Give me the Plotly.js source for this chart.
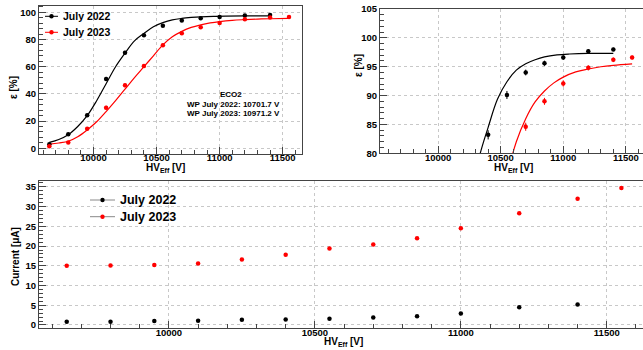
<!DOCTYPE html>
<html>
<head>
<meta charset="utf-8">
<script src="https://cdn.plot.ly/plotly-3.0.1.min.js"></script>
<style>html,body{margin:0;padding:0;background:#fff;}#chart{width:643px;height:350px;}</style>
</head>
<body>
<div id="chart"></div>
<script>
// ---- data ----
const hv2022 = [9650, 9800, 9950, 10100, 10250, 10400, 10550, 10700, 10850, 11000, 11200, 11400];
const hv2023 = [9650, 9800, 9950, 10100, 10250, 10400, 10550, 10700, 10850, 11000, 11200, 11400, 11550];

const eff2022 = [3.0, 10.4, 24.3, 51.0, 70.3, 83.2, 90.1, 94.0, 95.6, 96.6, 97.7, 98.0];
const eff2023 = [1.5, 4.2, 14.4, 29.9, 46.3, 60.5, 75.8, 84.6, 89.0, 92.1, 94.8, 96.2, 96.6];
const effErr2022 = [0.5, 0.9, 1.3, 1.5, 1.4, 0.8, 0.7, 0.5, 0.45, 0.4, 0.35, 0.3];
const effErr2023 = [0.3, 0.6, 1.1, 1.4, 1.5, 1.5, 1.3, 0.7, 0.6, 0.55, 0.45, 0.4, 0.35];

// fitted sigmoid curves
const fitHv2022 = [9650, 9725, 9800, 9875, 9950, 10025, 10100, 10175, 10250, 10325, 10400, 10475, 10550, 10625, 10700, 10775, 10850, 10950, 11050, 11200, 11400];
const fitEff2022 = [4.3, 6.5, 10.0, 16.0, 24.0, 35.0, 47.5, 60.0, 70.0, 79.0, 84.5, 89.4, 92.4, 94.4, 95.5, 96.2, 96.7, 97.05, 97.2, 97.3, 97.3];
const fitHv2023 = [9650, 9725, 9800, 9875, 9950, 10025, 10100, 10175, 10250, 10325, 10400, 10475, 10550, 10625, 10700, 10775, 10850, 10925, 11000, 11100, 11200, 11300, 11400, 11550];
const fitEff2023 = [3.0, 3.9, 5.2, 8.5, 13.5, 19.5, 27.0, 35.0, 43.5, 52.0, 60.0, 68.0, 76.0, 82.0, 86.0, 88.9, 90.8, 92.2, 93.2, 94.1, 94.6, 95.0, 95.25, 95.5];

const cur2022 = [0.8, 0.8, 1.0, 1.1, 1.3, 1.4, 1.6, 1.9, 2.2, 2.9, 4.5, 5.2];
const cur2023 = [15.0, 15.1, 15.2, 15.6, 16.6, 17.8, 19.4, 20.4, 22.0, 24.5, 28.3, 32.0, 34.7];

const seriesNames = ['July 2022', 'July 2023'];
const wpText = ['ECO2', 'WP July 2022: 10701.7 V', 'WP July 2023: 10971.2 V'];

// ---- styling ----
const W = 643, H = 350;
const px = v => v / W;
const py = v => 1 - v / H;
const BLACK = '#000000', RED = '#ff0000';
const FONT = 'Liberation Sans, Arial, Helvetica, sans-serif';

function effTraces(xa, ya) {
  return [
    {x: fitHv2022, y: fitEff2022, xaxis: xa, yaxis: ya, mode: 'lines', line: {color: BLACK, width: 1.2, shape: 'spline'}, hoverinfo: 'skip'},
    {x: fitHv2023, y: fitEff2023, xaxis: xa, yaxis: ya, mode: 'lines', line: {color: RED, width: 1.2, shape: 'spline'}, hoverinfo: 'skip'},
    {x: hv2022, y: eff2022, xaxis: xa, yaxis: ya, mode: 'markers', name: seriesNames[0],
     marker: {color: BLACK, size: 4.5},
     error_y: {type: 'data', array: effErr2022, color: BLACK, thickness: 1, width: 0}},
    {x: hv2023, y: eff2023, xaxis: xa, yaxis: ya, mode: 'markers', name: seriesNames[1],
     marker: {color: RED, size: 4.5},
     error_y: {type: 'data', array: effErr2023, color: RED, thickness: 1, width: 0}}
  ];
}

const traces = [
  ...effTraces('x', 'y'),
  ...effTraces('x2', 'y2'),
  {x: hv2022, y: cur2022, xaxis: 'x3', yaxis: 'y3', mode: 'markers', name: seriesNames[0], marker: {color: BLACK, size: 4.5}},
  {x: hv2023, y: cur2023, xaxis: 'x3', yaxis: 'y3', mode: 'markers', name: seriesNames[1], marker: {color: RED, size: 4.5}}
];

function axis(extra) {
  return Object.assign({
    showgrid: true, gridcolor: '#c8c8c8', griddash: 'dot', gridwidth: 1,
    zeroline: false, showline: true, mirror: true, linecolor: '#444', linewidth: 1,
    ticks: 'inside', ticklen: 7, tickcolor: '#444', tickwidth: 1,
    tickfont: {family: FONT, size: 9.5, color: '#000', weight: 'bold'},
    tickformat: 'd', exponentformat: 'none',
    fixedrange: true
  }, extra);
}
const xStandoff = -5;

const layout = {
  width: W, height: H,
  margin: {l: 0, r: 0, t: 0, b: 0},
  paper_bgcolor: '#fff', plot_bgcolor: '#fff',
  showlegend: false,
  xaxis: axis({domain: [px(39), px(302)], range: [9568, 11653], anchor: 'y', tick0: 10000, dtick: 500, ticklabelstandoff: xStandoff,
               minor: {dtick: 100, ticks: 'inside', ticklen: 4, tickcolor: '#444', showgrid: false}}),
  yaxis: axis({domain: [py(154), py(5.5)], range: [-4.2, 105], anchor: 'x', tick0: 0, dtick: 20,
               minor: {dtick: 4, ticks: 'inside', ticklen: 4, tickcolor: '#444', showgrid: false}}),
  xaxis2: axis({domain: [px(380), 1], range: [9536, 11637], anchor: 'y2', tick0: 10000, dtick: 500, ticklabelstandoff: xStandoff,
               minor: {dtick: 100, ticks: 'inside', ticklen: 4, tickcolor: '#444', showgrid: false}}),
  yaxis2: axis({domain: [py(153.3), py(9)], range: [80, 105], anchor: 'x2', tick0: 80, dtick: 5,
               minor: {dtick: 1, ticks: 'inside', ticklen: 4, tickcolor: '#444', showgrid: false}}),
  xaxis3: axis({domain: [px(39), 1], range: [9555, 11624], anchor: 'y3', tick0: 10000, dtick: 500, ticklabelstandoff: xStandoff,
               minor: {dtick: 100, ticks: 'inside', ticklen: 4, tickcolor: '#444', showgrid: false}}),
  yaxis3: axis({domain: [py(328.3), py(181)], range: [-0.84, 36.5], anchor: 'x3', tick0: 0, dtick: 5,
               minor: {dtick: 1, ticks: 'inside', ticklen: 4, tickcolor: '#444', showgrid: false}}),
  annotations: [],
  shapes: []
};

const titleFont = {family: FONT, size: 10, color: '#000', weight: 'bold'};
function note(text, x, y, opts) {
  layout.annotations.push(Object.assign({
    text: text, x: px(x), y: py(y), xref: 'paper', yref: 'paper',
    showarrow: false, xanchor: 'center', yanchor: 'middle', font: titleFont
  }, opts || {}));
}
// axis titles
note('ε [%]', 13, 88, {textangle: -90});
note('ε [%]', 358, 66, {textangle: -90});
note('Current [μA]', 15, 257, {textangle: -90});
note('HV<sub>Eff</sub> [V]', 165, 168);
note('HV<sub>Eff</sub> [V]', 513, 168);
note('HV<sub>Eff</sub> [V]', 343, 342);

// ECO2 text block
const smallFont = {family: FONT, size: 8, color: '#000', weight: 'bold'};
note(wpText[0], 231, 95, {font: smallFont});
note(wpText[1], 233, 104, {font: smallFont});
note(wpText[2], 233, 113, {font: smallFont});

// legends (ROOT style: line + marker)
function legendItem(label, color, lineColor, x0, x1, y, tx, size) {
  layout.shapes.push({type: 'line', xref: 'paper', yref: 'paper', x0: px(x0), x1: px(x1), y0: py(y), y1: py(y),
                      line: {color: lineColor, width: 1}});
  const cx = (x0 + x1) / 2, r = 2.2;
  layout.shapes.push({type: 'circle', xref: 'paper', yref: 'paper', x0: px(cx - r), x1: px(cx + r), y0: py(y + r), y1: py(y - r),
                      fillcolor: color, line: {color: color, width: 0}});
  note(label, tx, y, {xanchor: 'left', font: {family: FONT, size: size, color: '#000', weight: 'bold'}});
}
legendItem(seriesNames[0], BLACK, BLACK, 45, 58, 16.3, 61, 10.5);
legendItem(seriesNames[1], RED, RED, 45, 58, 32.3, 61, 10.5);
legendItem(seriesNames[0], BLACK, '#888', 90, 115, 200, 118, 12.5);
legendItem(seriesNames[1], RED, '#888', 90, 115, 216.7, 118, 12.5);

Plotly.newPlot('chart', traces, layout, {staticPlot: true, displayModeBar: false});
</script>
</body>
</html>
